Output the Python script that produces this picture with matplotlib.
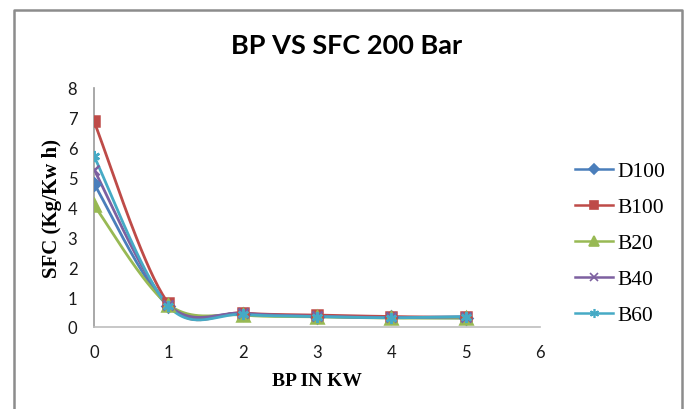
import numpy as np
import matplotlib.pyplot as plt

# BP (kW) against SFC at 200 bar injection pressure
bp = [0, 1, 2, 3, 4, 5]
d100 = [4.8, 0.7, 0.45, 0.35, 0.32, 0.3]
b100 = [6.88, 0.8, 0.47, 0.4, 0.35, 0.32]
b20 = [4.08, 0.75, 0.4, 0.34, 0.3, 0.3]
b40 = [5.27, 0.75, 0.46, 0.36, 0.32, 0.34]
b60 = [5.72, 0.7, 0.42, 0.35, 0.31, 0.35]

series = [
    ("D100", d100, "#4a7ebb", "D", 6.5),
    ("B100", b100, "#be4b48", "s", 7.5),
    ("B20", b20, "#98b954", "^", 8),
    ("B40", b40, "#7d60a0", "x", 7),
    ("B60", b60, "#46aac5", (6, 2, 0), 8),
]


def smooth(xs, ys, n=40):
    # bezier through the points, like a spreadsheet "smoothed line"
    p = np.column_stack([xs, ys]).astype(float)
    p = np.vstack([p[0], p, p[-1]])
    out = []
    for i in range(1, len(p) - 2):
        p0, p1, p2, p3 = p[i - 1], p[i], p[i + 1], p[i + 2]
        c1 = p1 + (p2 - p0) / 6
        c2 = p2 - (p3 - p1) / 6
        t = np.linspace(0, 1, n)[:, None]
        seg = ((1 - t) ** 3) * p1 + 3 * ((1 - t) ** 2) * t * c1 + 3 * (1 - t) * t ** 2 * c2 + t ** 3 * p2
        out.append(seg)
    out = np.vstack(out)
    return out[:, 0], out[:, 1]


fig = plt.figure(figsize=(6.86, 4.10), dpi=100)
ax = fig.add_axes([0.137, 0.2, 0.65, 0.583])

for name, vals, col, mk, ms in series:
    sx, sy = smooth(bp, vals)
    ax.plot(sx, sy, color=col, lw=2, zorder=2)
    ax.plot(bp, vals, ls="none", marker=mk, color=col, ms=ms,
            mew=1.8, zorder=3)
    ax.plot([], [], color=col, lw=1.8, marker=mk, ms=ms - 1.5, mew=1.2, label=name)

ax.set_xlim(0, 6)
ax.set_ylim(0, 8)
ax.set_xticks(range(7))
ax.set_yticks(range(9))
for s in ["top", "right"]:
    ax.spines[s].set_visible(False)
ax.spines["left"].set_color("#9a9a9a")
ax.spines["bottom"].set_color("#bdbdbd")
ax.spines["left"].set_linewidth(1.2)
ax.spines["bottom"].set_linewidth(1.2)
ax.tick_params(length=0, labelsize=12, labelcolor="#1a1a1a")
ax.tick_params(axis="x", pad=12)
ax.tick_params(axis="y", pad=12)
for lab in ax.get_xticklabels() + ax.get_yticklabels():
    lab.set_fontfamily("Lato")

ax.set_xlabel("BP IN KW", fontfamily="Liberation Serif", fontweight="bold",
              fontsize=14, labelpad=9)
ax.set_ylabel("SFC (Kg/Kw h)", fontfamily="Liberation Serif", fontweight="bold",
              fontsize=15, labelpad=4)
fig.text(0.505, 0.888, "BP VS SFC 200 Bar", ha="center", va="center",
         fontfamily="Lato", fontweight="bold", fontsize=19.5)

leg = ax.legend(loc="center left", bbox_to_anchor=(1.035, 0.35), frameon=False,
                prop={"family": "Liberation Serif", "size": 15.5},
                handlelength=1.75, handletextpad=0.25, labelspacing=0.74)

# outer chart frame (open at the bottom)
fig.add_artist(plt.Line2D([0.02, 0.02, 0.994, 0.994], [0.0, 0.973, 0.973, 0.0],
                          transform=fig.transFigure, color="#8c8c8c", lw=1.8))

fig.savefig("out.png", dpi=100)
